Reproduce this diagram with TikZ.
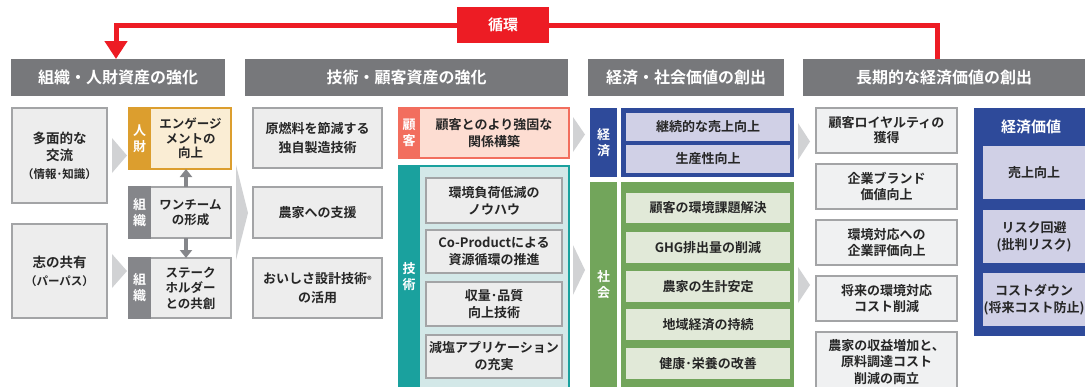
\documentclass[tikz,border=0pt]{standalone}
\usepackage{fontspec}
\setmainfont{Noto Sans CJK JP}[BoldFont={* Bold}]
\usetikzlibrary{arrows.meta}
\definecolor{hdrgray}{HTML}{77787B}
\definecolor{loopred}{HTML}{ED1C24}
\definecolor{boxfill}{HTML}{EDEDED}
\definecolor{boxline}{HTML}{A3A4A6}
\definecolor{chev}{HTML}{D1D2D4}
\definecolor{txt}{HTML}{262626}
\definecolor{orng}{HTML}{DC9E2E}
\definecolor{orngfill}{HTML}{FAEDD4}
\definecolor{tabgray}{HTML}{85868A}
\definecolor{salmon}{HTML}{F26E5E}
\definecolor{salmonfill}{HTML}{FDDDD2}
\definecolor{tealc}{HTML}{1AA19E}
\definecolor{tealfill}{HTML}{D3E8E8}
\definecolor{navy}{HTML}{2E4A9A}
\definecolor{lav}{HTML}{D0D0E6}
\definecolor{grn}{HTML}{72A55B}
\definecolor{grnfill}{HTML}{E1E9D8}
\definecolor{kfill}{HTML}{F0F1F2}
\begin{document}
\begin{tikzpicture}[x=1pt,y=-1pt,
  every node/.style={inner sep=0pt, outer sep=0pt, align=center},
  hdr/.style={fill=hdrgray, text=white, font=\bfseries\fontsize{16}{16}\selectfont, minimum height=37pt},
  gbox/.style={fill=boxfill, draw=boxline, line width=1.6pt, text=txt, font=\bfseries\fontsize{13}{17}\selectfont},
  kbox/.style={gbox, fill=kfill, minimum width=141pt},
  tabbox/.style={text=white, font=\bfseries\fontsize{13}{16}\selectfont},
  flatbox/.style={text=txt, font=\bfseries\fontsize{13}{17}\selectfont},
  chevron/.style={fill=chev},
  linkarrow/.style={draw=tabgray, line width=3.5pt, -{Triangle[width=12pt,length=8pt]}},
  looparrow/.style={draw=loopred, line width=5pt, line join=miter, -{Triangle[width=22pt,length=18pt]}}
]
\useasboundingbox (0,0) rectangle (1085,386);
\clip (0,0) rectangle (1085,386);

% ---------- headers ----------
\node[hdr, minimum width=214pt] (H1) at (118,77.5) {組織・人財資産の強化};
\node[hdr, minimum width=323pt] (H2) at (406.5,77.5) {技術・顧客資産の強化};
\node[hdr, minimum width=196pt] (H3) at (686,77.5) {経済・社会価値の創出};
\node[hdr, minimum width=282pt] (H4) at (944,77.5) {長期的な経済価値の創出};

% ---------- loop ----------
\coordinate (loopR) at (937,59);
\coordinate (loopL) at (116,59);
\coordinate (loopM) at (503,25.5);
\draw[looparrow] (loopR) |- (loopM) -| (loopL);
\node[fill=loopred, text=white, font=\bfseries\fontsize{15}{15}\selectfont, minimum width=92pt, minimum height=36pt] (lbl) at (503,25) {循環};

% ---------- chevrons ----------
\fill[chevron] (112,138) -- (127,155.5) -- (112,173) -- cycle;
\fill[chevron] (112,254) -- (127,271) -- (112,288) -- cycle;
\fill[chevron] (236,165) -- (248,213) -- (236,260) -- cycle;
\fill[chevron] (573,117) -- (585,134.5) -- (573,152) -- cycle;
\fill[chevron] (573,245) -- (585,270) -- (573,295) -- cycle;
\fill[chevron] (798,123) -- (810,141.5) -- (798,160) -- cycle;
\fill[chevron] (798,267) -- (810,285) -- (798,303) -- cycle;

% ---------- column 1 ----------
\node[gbox, minimum width=95pt, minimum height=95pt, font=\bfseries\fontsize{13.5}{17}\selectfont] (A1) at (59.5,155.5)
  {多面的な\\[0pt]交流\\[1pt]{\fontsize{11.5}{13}\selectfont （情報･知識）}};
\node[gbox, minimum width=95pt, minimum height=94pt, font=\bfseries\fontsize{13.5}{17}\selectfont] (A2) at (59.5,271)
  {志の共有\\[1pt]{\fontsize{11.5}{13}\selectfont （パーパス）}};

\node[gbox, fill=orngfill, draw=orng, minimum width=81pt, minimum height=61pt,
  font=\bfseries\fontsize{12.5}{14.5}\selectfont] (B1) at (190.5,138.5) {エンゲージ\\メントの\\向上};
\node[tabbox, fill=orng, draw=orng, line width=1.6pt, minimum width=21pt, minimum height=61pt] (B1t) at (139.5,138.5) {人\\財};

\node[gbox, minimum width=81pt, minimum height=51pt,
  font=\bfseries\fontsize{12.5}{15}\selectfont] (B2) at (190.5,212.5) {ワンチーム\\の形成};
\node[tabbox, fill=tabgray, draw=tabgray, line width=1.6pt, minimum width=21pt, minimum height=51pt] (B2t) at (139.5,212.5) {組\\織};

\node[gbox, minimum width=81pt, minimum height=60pt,
  font=\bfseries\fontsize{12.5}{15.5}\selectfont] (B3) at (190.5,288) {ステーク\\ホルダー\\との共創};
\node[tabbox, fill=tabgray, draw=tabgray, line width=1.6pt, minimum width=21pt, minimum height=60pt] (B3t) at (139.5,288) {組\\織};

\draw[linkarrow] ([xshift=-4.5pt]B2.north) -- ([xshift=-4.5pt]B1.south);
\draw[linkarrow] ([xshift=-4.5pt]B2.south) -- ([xshift=-4.5pt]B3.north);

% ---------- column 2 ----------
\node[gbox, minimum width=129pt, minimum height=60pt, font=\bfseries\fontsize{13}{18.5}\selectfont] (C1) at (317.5,138) {原燃料を節減する\\独自製造技術};
\node[gbox, minimum width=129pt, minimum height=51pt] (C2) at (317.5,212.5) {農家への支援};
\node[gbox, minimum width=129pt, minimum height=60pt, font=\bfseries\fontsize{13}{19}\selectfont] (C3) at (317.5,288) {おいしさ設計技術\raisebox{-0.5pt}{\fontsize{9}{9}\selectfont ®}\\の活用};

\node[gbox, fill=salmonfill, draw=salmon, minimum width=150pt, minimum height=50pt] (D) at (494,133) {顧客とのより強固な\\関係構築};
\node[tabbox, fill=salmon, draw=salmon, line width=1.6pt, minimum width=20pt, minimum height=50pt] (Dt) at (409,133) {顧\\客};

\node[draw=tealc, fill=tealfill, line width=1.6pt, minimum width=150pt, minimum height=222pt] (E) at (494,277) {};
\node[tabbox, fill=tealc, draw=tealc, line width=1.6pt, minimum width=20pt, minimum height=222pt] (Et) at (409,277) {技\\術};
\node[gbox, minimum width=136pt, minimum height=45pt] (E1) at (494,200.5) {環境負荷低減の\\ノウハウ};
\node[gbox, minimum width=136pt, minimum height=43pt] (E2) at (494,251.5) {Co-Productによる\\資源循環の推進};
\node[gbox, minimum width=136pt, minimum height=44pt] (E3) at (494,304) {収量･品質\\向上技術};
\node[gbox, minimum width=136pt, minimum height=43pt] (E4) at (494,356.5) {減塩アプリケーション\\の充実};

% ---------- column 3 ----------
\node[tabbox, fill=navy, minimum width=27pt, minimum height=69pt] (Ft) at (603.5,142.5) {経\\済};
\node[fill=navy, minimum width=173pt, minimum height=69pt] (F) at (707.5,142.5) {};
\node[flatbox, fill=lav, minimum width=164pt, minimum height=28pt] (F1) at (708,127) {継続的な売上向上};
\node[flatbox, fill=lav, minimum width=164pt, minimum height=28pt] (F2) at (708,159) {生産性向上};

\node[tabbox, fill=grn, minimum width=27pt, minimum height=206pt] (Gt) at (603.5,285) {社\\会};
\node[fill=grn, minimum width=173pt, minimum height=206pt] (G) at (707.5,285) {};
\node[flatbox, fill=grnfill, minimum width=164pt, minimum height=30pt] (G1) at (708,208) {顧客の環境課題解決};
\node[flatbox, fill=grnfill, minimum width=164pt, minimum height=31pt] (G2) at (708,247.5) {GHG排出量の削減};
\node[flatbox, fill=grnfill, minimum width=164pt, minimum height=31pt] (G3) at (708,286.5) {農家の生計安定};
\node[flatbox, fill=grnfill, minimum width=164pt, minimum height=31pt] (G4) at (708,324.5) {地域経済の持続};
\node[flatbox, fill=grnfill, minimum width=164pt, minimum height=31pt] (G5) at (708,363.5) {健康･栄養の改善};

% ---------- column 4 ----------
\node[kbox, minimum height=45pt, font=\bfseries\fontsize{13}{15}\selectfont] (K1) at (886.5,130.5) {顧客ロイヤルティの\\獲得};
\node[kbox, minimum height=45pt, font=\bfseries\fontsize{13}{15.5}\selectfont] (K2) at (886.5,186.5) {企業ブランド\\価値向上};
\node[kbox, minimum height=45pt, font=\bfseries\fontsize{13}{15.5}\selectfont] (K3) at (886.5,242.5) {環境対応への\\企業評価向上};
\node[kbox, minimum height=45pt, font=\bfseries\fontsize{13}{15.5}\selectfont] (K4) at (886.5,298.5) {将来の環境対応\\コスト削減};
\node[kbox, minimum height=60pt, font=\bfseries\fontsize{13}{16.5}\selectfont] (K5) at (886.5,362) {農家の収益増加と、\\原料調達コスト\\削減の両立};

\node[fill=navy, minimum width=111pt, minimum height=228pt] (L) at (1029.5,222) {};
\node[text=white, font=\bfseries\fontsize{15}{15}\selectfont] (Lt) at (1031,127) {経済価値};
\node[flatbox, fill=lav, minimum width=102pt, minimum height=53pt] (L1) at (1034,172.5) {売上向上};
\node[flatbox, fill=lav, minimum width=102pt, minimum height=53pt] (L2) at (1034,236.5) {リスク回避\\(批判リスク)};
\node[flatbox, fill=lav, minimum width=102pt, minimum height=53pt] (L3) at (1034,299.5) {コストダウン\\(将来コスト防止)};
\end{tikzpicture}
\end{document}
